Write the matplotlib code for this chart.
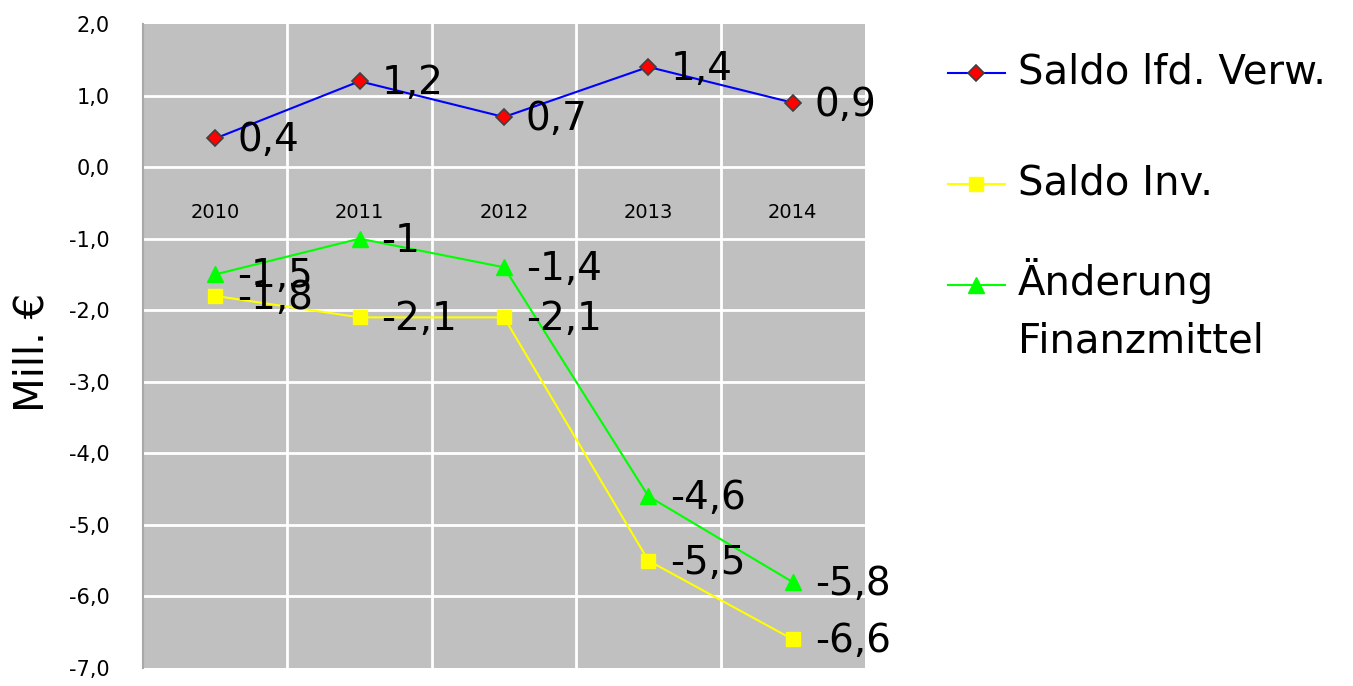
import matplotlib
matplotlib.use("Agg")
import matplotlib.pyplot as plt
from matplotlib.lines import Line2D
import numpy as np

plt.rcParams['font.family'] = ['DejaVu Sans']

years = ["2010", "2011", "2012", "2013", "2014"]
saldo_lfd = [0.4, 1.2, 0.7, 1.4, 0.9]
saldo_inv = [-1.8, -2.1, -2.1, -5.5, -6.6]
aenderung = [-1.5, -1.0, -1.4, -4.6, -5.8]
y_ticks = [-7, -6, -5, -4, -3, -2, -1, 0, 1, 2]
legend_labels = ["Saldo lfd. Verw.", "Saldo Inv.", "Änderung\nFinanzmittel"]


def fmt(v):
    s = ("%.1f" % v).rstrip("0").rstrip(".")
    return s.replace(".", ",")


fig = plt.figure(figsize=(13.53, 6.86), dpi=100)
ax = fig.add_axes([143 / 1353, 18 / 686, 722 / 1353, 644 / 686])
ax.set_facecolor("#c0c0c0")

x = np.arange(len(years))
ax.set_xlim(-0.5, len(years) - 0.5)
ax.set_ylim(-7, 2)

for yv in y_ticks[1:-1]:
    ax.axhline(yv, color="white", lw=2, zorder=1)
for xv in x[:-1] + 0.5:
    ax.axvline(xv, color="white", lw=2, zorder=1)

series = [
    (saldo_lfd, dict(color="#0000ff", marker="D", ms=8, mfc="#ff0000", mec="#404040", mew=1.2)),
    (saldo_inv, dict(color="#ffff00", marker="s", ms=10, mfc="#ffff00", mec="#ffff00")),
    (aenderung, dict(color="#00ff00", marker="^", ms=11, mfc="#00ff00", mec="#00ff00")),
]
for vals, st in series:
    ax.plot(x, vals, lw=1.5, zorder=3, **st)
    for xi, v in zip(x, vals):
        ax.annotate(fmt(v), (xi, v), xytext=(22, -2), textcoords="offset pixels",
                    ha="left", va="center", fontsize=28, zorder=4)

# category labels sit below the zero line
for xi, yr in zip(x, years):
    ax.annotate(yr, (xi, 0), xytext=(0, -45), textcoords="offset pixels",
                ha="center", va="center", fontsize=14)

ax.set_xticks([])
ax.set_yticks(y_ticks)
ax.set_yticklabels([fmt(v) + (",0" if float(v).is_integer() else "") for v in y_ticks], fontsize=15)
ax.tick_params(axis="y", length=0, pad=24)
for s in ["top", "right", "bottom"]:
    ax.spines[s].set_visible(False)
ax.spines["left"].set_color("#a8a8a8")
ax.spines["left"].set_linewidth(1.5)

fig.text(33 / 1353, 1 - 352 / 686, "Mill. €", rotation=90, ha="center", va="center", fontsize=29)

# legend drawn by hand so the marker lines up with the first text line
leg_y = [73, 184, 285]
for (vals, st), lab, ly in zip(series, legend_labels, leg_y):
    yf = 1 - ly / 686
    fig.add_artist(Line2D([948 / 1353, 1005 / 1353], [yf, yf], lw=1.5, color=st["color"],
                          transform=fig.transFigure))
    fig.add_artist(Line2D([976 / 1353], [yf], lw=0, marker=st["marker"], ms=st["ms"],
                          mfc=st["mfc"], mec=st["mec"], mew=st.get("mew", 1),
                          transform=fig.transFigure))
    two = "\n" in lab
    fig.text(1018 / 1353, yf + (27 / 686 if two else 0), lab, ha="left",
             va="top" if two else "center", fontsize=29, linespacing=1.55)

fig.savefig("out.png", dpi=100)
